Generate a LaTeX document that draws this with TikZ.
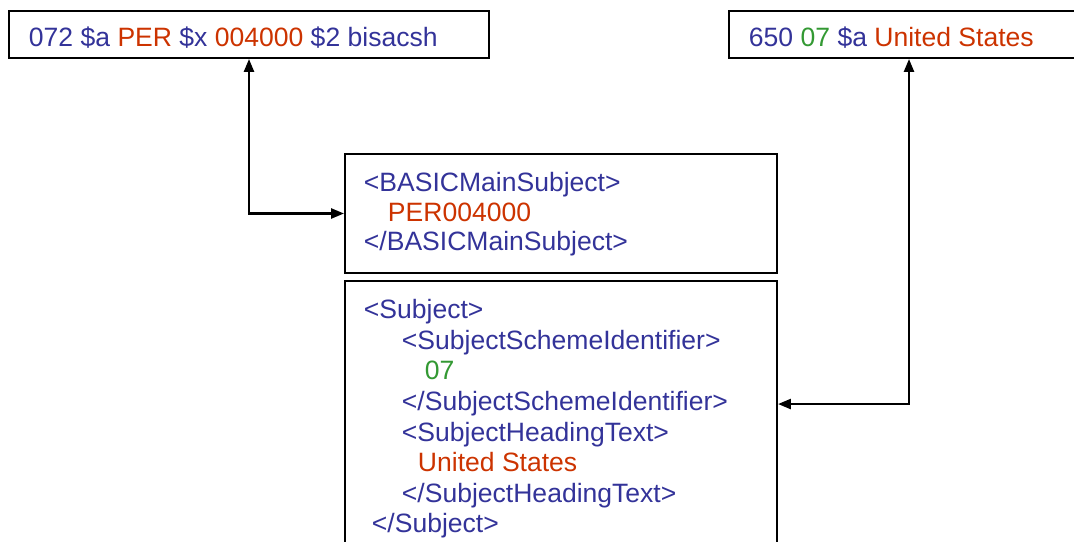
\documentclass[tikz,border=0pt]{standalone}
\usepackage{fontspec}
\setmainfont{Liberation Sans}
\usetikzlibrary{arrows.meta}
\definecolor{tagblue}{RGB}{51,51,153}
\definecolor{valred}{RGB}{204,51,0}
\definecolor{codegreen}{RGB}{51,153,51}
\tikzset{
  recbox/.style={draw,inner sep=0pt},
  txt/.style={anchor=base west,inner sep=0pt,text=tagblue}
}
\begin{document}
\begin{tikzpicture}[>={Triangle[length=0.26cm,width=0.2cm]},line width=1.1pt,
  font=\fontsize{15.1}{18}\selectfont]
\useasboundingbox (0,0) rectangle (21.48,10.82);
% records and xml blocks
\node[recbox,minimum width=9.6cm,minimum height=0.94cm] (marcA) at (4.98,10.13) {};
\node[recbox,minimum width=7.2cm,minimum height=0.94cm] (marcB) at (18.18,10.13) {};
\node[recbox,minimum width=8.64cm,minimum height=2.38cm] (mainsubj) at (11.22,6.55) {};
\node[recbox,minimum width=8.64cm,minimum height=5.58cm] (subject) at (11.22,2.41) {};
% texts
\node[txt] (tA) at (0.56,9.88) {072 \$a \textcolor{valred}{PER} \$x \textcolor{valred}{004000} \$2 bisacsh};
\node[txt] (tB) at (14.96,9.88) {650 \textcolor{codegreen}{07} \$a \textcolor{valred}{United States}};
\node[txt] (m1) at (7.26,6.98) {<BASICMainSubject>};
\node[txt,text=valred] (m2) at (7.74,6.38) {PER004000};
\node[txt] (m3) at (7.26,5.80) {</BASICMainSubject>};
\node[txt] (s1) at (7.26,4.46) {<Subject>};
\node[txt] (s2) at (8.02,3.84) {<SubjectSchemeIdentifier>};
\node[txt,text=codegreen] (s3) at (8.48,3.24) {07};
\node[txt] (s4) at (8.02,2.62) {</SubjectSchemeIdentifier>};
\node[txt] (s5) at (8.02,2.00) {<SubjectHeadingText>};
\node[txt,text=valred] (s6) at (8.34,1.40) {United States};
\node[txt] (s7) at (8.02,0.78) {</SubjectHeadingText>};
\node[txt] (s8) at (7.42,0.18) {</Subject>};
% mappings
\draw[<->,line width=1.4pt] (marcA.south) |- (mainsubj.west);
\draw[<->,line width=1.4pt] (marcB.south) |- ([yshift=-2.48cm]subject.north east);
\end{tikzpicture}
\end{document}
